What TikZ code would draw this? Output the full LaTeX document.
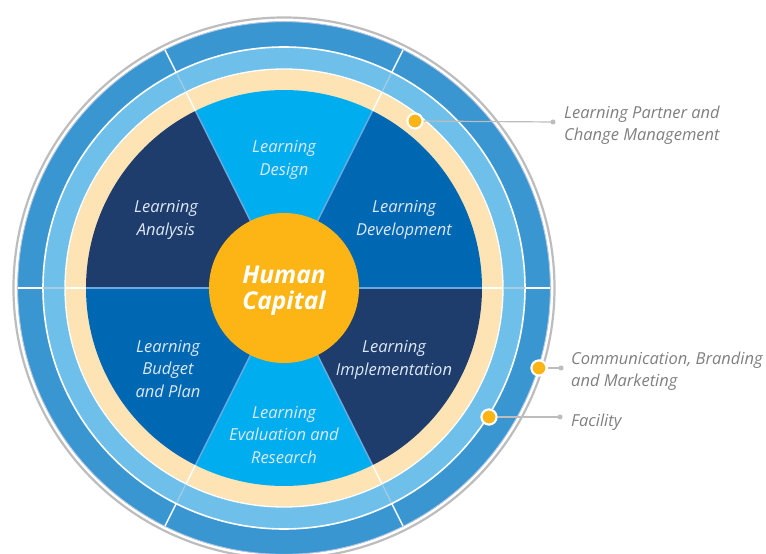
\documentclass[tikz,border=0pt]{standalone}
\usepackage{fontspec}
\setmainfont{Open Sans}
\definecolor{ringgrey}{HTML}{BDBDBD}
\definecolor{edgeline}{HTML}{B9C6DE}
\definecolor{outerblue}{HTML}{3A96D1}
\definecolor{lightblue}{HTML}{6EC0EB}
\definecolor{cream}{HTML}{FEE3B4}
\definecolor{navy}{HTML}{1E3D6D}
\definecolor{cyanb}{HTML}{00AEEF}
\definecolor{devblue}{HTML}{0068B3}
\definecolor{hubcol}{HTML}{FDB515}
\definecolor{lbdiv}{HTML}{A6CBE2}
\definecolor{secdiv}{HTML}{6AAAE0}
\definecolor{labgrey}{HTML}{808080}
\definecolor{seclab}{HTML}{DDE8F4}
\tikzset{
  seclabel/.style={text=seclab, align=center, inner sep=0pt, font=\fontsize{16.5}{22.5}\selectfont\itshape},
  sidelabel/.style={text=labgrey, align=left, anchor=west, inner sep=0pt, font=\fontsize{16.5}{22.5}\selectfont\itshape},
  marker/.style={circle, fill=hubcol, draw=white, line width=2pt, minimum size=15pt, inner sep=0pt},
  enddot/.style={circle, fill=ringgrey, minimum size=5pt, inner sep=0pt},
  connector/.style={draw=ringgrey, line width=1.2pt}
}
\begin{document}
\begin{tikzpicture}[x=1pt,y=1pt]
\useasboundingbox (-284,-266) rectangle (482,288);
\fill[white] (-284,-266) rectangle (482,288);
\def\ang{63.43}
% rings
\draw[ringgrey, line width=2.2pt] (0,0) circle (270.5);
\fill[outerblue] (0,0) circle (266.5);
\draw[edgeline, line width=0.8pt] (0,0) circle (266.3);
\fill[lightblue] (0,0) circle (241);
\fill[cream] (0,0) circle (219);
% sectors
\fill[devblue] (0,0) -- (0:198) arc[start angle=0, end angle=\ang, radius=198] -- cycle;
\fill[cyanb] (0,0) -- (\ang:198) arc[start angle=\ang, end angle=180-\ang, radius=198] -- cycle;
\fill[navy] (0,0) -- (180-\ang:198) arc[start angle=180-\ang, end angle=180, radius=198] -- cycle;
\fill[devblue] (0,0) -- (180:198) arc[start angle=180, end angle=180+\ang, radius=198] -- cycle;
\fill[cyanb] (0,0) -- (180+\ang:198) arc[start angle=180+\ang, end angle=360-\ang, radius=198] -- cycle;
\fill[navy] (0,0) -- (360-\ang:198) arc[start angle=360-\ang, end angle=360, radius=198] -- cycle;
% ring separators
\draw[white, line width=1.6pt] (0,0) circle (241);
\draw[white, line width=1.3pt] (0,0) circle (219);
% dividers
\foreach \t in {0, \ang, 180-\ang, 180, 180+\ang, 360-\ang}{
  \draw[white, line width=1.5pt] (\t:241) -- (\t:266);
  \draw[lbdiv, line width=1.2pt] (\t:219.5) -- (\t:240.5);
  \draw[white, line width=1.5pt] (\t:198) -- (\t:218.5);
  \draw[secdiv, line width=1.5pt] (\t:70) -- (\t:198);
}
% hub
\node[circle, fill=hubcol, minimum size=150pt, inner sep=0pt] (hub) at (0,0) {};
\node[text=white, align=center, inner sep=0pt, font=\fontsize{24.5}{26}\selectfont\bfseries\itshape] (hubtext) at (0,-3) {Human\\Capital};
% sector labels
\node[seclabel] (design) at (0,128) {Learning\\Design};
\node[seclabel] (analysis) at (-118,68) {Learning\\Analysis};
\node[seclabel] (development) at (120,68) {Learning\\Development};
\node[seclabel] (implementation) at (110,-72) {Learning\\Implementation};
\node[seclabel] (evaluation) at (0,-147) {Learning\\Evaluation and\\Research};
\node[seclabel] (budget) at (-116,-81) {Learning\\Budget\\and Plan};
% markers and connectors
\coordinate (end1) at (269,166);
\coordinate (end2) at (277,-80);
\coordinate (end3) at (276,-129);
\node[marker] (dot1) at (131,167) {};
\node[marker] (dot2) at (255,-80) {};
\node[marker] (dot3) at (205,-129) {};
\draw[connector] (dot1) -- (end1);
\draw[connector] (dot2) -- (end2);
\draw[connector] (dot3) -- (end3);
\node[marker] at (dot1) {};
\node[marker] at (dot2) {};
\node[marker] at (dot3) {};
\node[enddot] (e1) at (end1) {};
\node[enddot] (e2) at (end2) {};
\node[enddot] (e3) at (end3) {};
% side labels
\node[sidelabel] (lab1) at (280,163) {Learning Partner and\\Change Management};
\node[sidelabel] (lab2) at (287,-83) {Communication, Branding\\and Marketing};
\node[sidelabel] (lab3) at (287,-134) {Facility};
\end{tikzpicture}
\end{document}
